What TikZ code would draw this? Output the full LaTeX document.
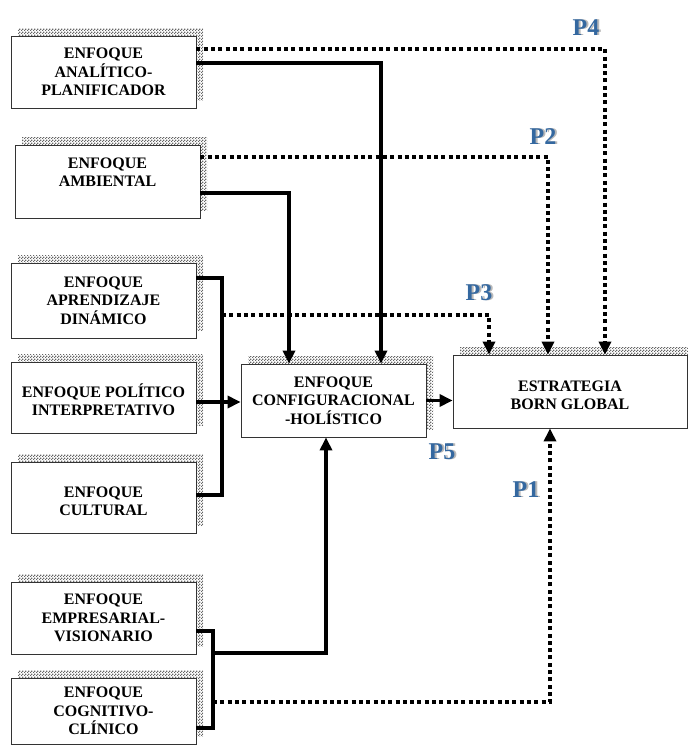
\documentclass[tikz,border=0pt]{standalone}
\usepackage{fontspec}
\setmainfont{Liberation Serif}
\usepackage{xcolor}
\usetikzlibrary{shapes,arrows.meta,shadows,patterns}
\definecolor{azulp}{RGB}{52,104,160}
% sombra a cuadros
\pgfdeclarepatternformonly{tablero}{\pgfpointorigin}{\pgfpoint{3pt}{3pt}}{\pgfpoint{3pt}{3pt}}{%
	\pgfpathrectangle{\pgfpointorigin}{\pgfpoint{1.5pt}{1.5pt}}%
	\pgfpathrectangle{\pgfpoint{1.5pt}{1.5pt}}{\pgfpoint{1.5pt}{1.5pt}}%
	\pgfusepath{fill}}
\tikzset{
	caja/.style={draw=black!80, line width=0.8pt, fill=white, minimum width=185pt,
		minimum height=72pt, inner sep=2pt, align=center,
		font=\bfseries\fontsize{16}{18.3}\selectfont,
		general shadow={shadow xshift=7pt, shadow yshift=8pt, pattern=tablero, pattern color=black!60}},
	linea/.style={line width=3.5pt, ->},
	punteada/.style={line width=4pt, dash pattern=on 4pt off 3.3pt, ->},
	etiqueta/.style={font=\bfseries\fontsize{24}{24}\selectfont, text=azulp}
}
\newcommand{\pe}[1]{\rlap{\textcolor{gray!55}{\kern2pt #1}}#1}
\begin{document}
\begin{tikzpicture}[x=1pt,y=-1pt,>={Triangle[length=13pt,width=12pt]}]
		\useasboundingbox (0,0) rectangle (688,745);
		\def\xa{103.5}
		% enfoques
		\node[caja] (analitico) at (\xa,72) {ENFOQUE\\ANALÍTICO-\\PLANIFICADOR};
		\node[caja, minimum height=73pt] (ambiental) at (107.5,181.5) {ENFOQUE\\AMBIENTAL\\\mbox{}};
		\node[caja, minimum height=75pt] (aprendizaje) at (\xa,300.5) {ENFOQUE\\APRENDIZAJE\\DINÁMICO};
		\node[caja, minimum height=71pt] (politico) at (\xa,397.5) {\mbox{}\\ENFOQUE POLÍTICO\\INTERPRETATIVO};
		\node[caja, minimum height=71pt] (cultural) at (\xa,497.5) {\mbox{}\\ENFOQUE\\CULTURAL};
		\node[caja] (empresarial) at (\xa,618) {ENFOQUE\\EMPRESARIAL-\\VISIONARIO};
		\node[caja, minimum height=66pt] (cognitivo) at (\xa,711) {ENFOQUE\\COGNITIVO-\\CLÍNICO};
		\node[caja, minimum height=73pt] (configuracional) at (333.5,400.5) {ENFOQUE\\CONFIGURACIONAL\\-HOLÍSTICO};
		\node[caja, minimum width=234pt, minimum height=73pt] (estrategia) at (570,391.5) {\mbox{}\\ESTRATEGIA\\BORN GLOBAL};
		% puntos de los buses
		\coordinate (busa) at (222,315);
		\coordinate (busb) at (213,653);
		\coordinate (busc) at (213,702);
		% lineas continuas
		\draw[linea] ([yshift=9pt]analitico.east) -| ([xshift=47.5pt]configuracional.north);
		\draw[linea] ([yshift=-11.5pt]ambiental.east) -| ([xshift=-44.5pt]configuracional.north);
		\draw[line width=3.5pt] ([yshift=22.5pt]aprendizaje.east) -| ([yshift=2.5pt]cultural.east -| busa) -- ([yshift=2.5pt]cultural.east);
		\draw[linea] ([yshift=-4.5pt]politico.east) -- ([yshift=-4.5pt]politico.east -| configuracional.west);
		\draw[linea] (configuracional.east) -- (configuracional.east -| estrategia.west);
		\draw[line width=3.5pt] ([yshift=-13pt]empresarial.east) -| ([yshift=-17pt]cognitivo.east -| busb) -- ([yshift=-17pt]cognitivo.east);
		\draw[linea] (busb) -| ([xshift=-7.5pt]configuracional.south);
		% lineas punteadas
		\draw[punteada] ([yshift=23pt]analitico.east) -| ([xshift=35pt]estrategia.north);
		\draw[punteada] ([yshift=24.5pt]ambiental.east) -| ([xshift=-22pt]estrategia.north);
		\draw[punteada] (busa) -| ([xshift=-81pt]estrategia.north);
		\draw[punteada] (busc) -| ([xshift=-20pt]estrategia.south);
		% etiquetas
		\node[etiqueta] (p4) at (586,28) {\pe{P4}};
		\node[etiqueta] (p2) at (543,137) {\pe{P2}};
		\node[etiqueta] (p3) at (479,293) {\pe{P3}};
		\node[etiqueta] (p5) at (442,452) {\pe{P5}};
		\node[etiqueta] (p1) at (526,490) {\pe{P1}};
		\end{tikzpicture}
\end{document}
